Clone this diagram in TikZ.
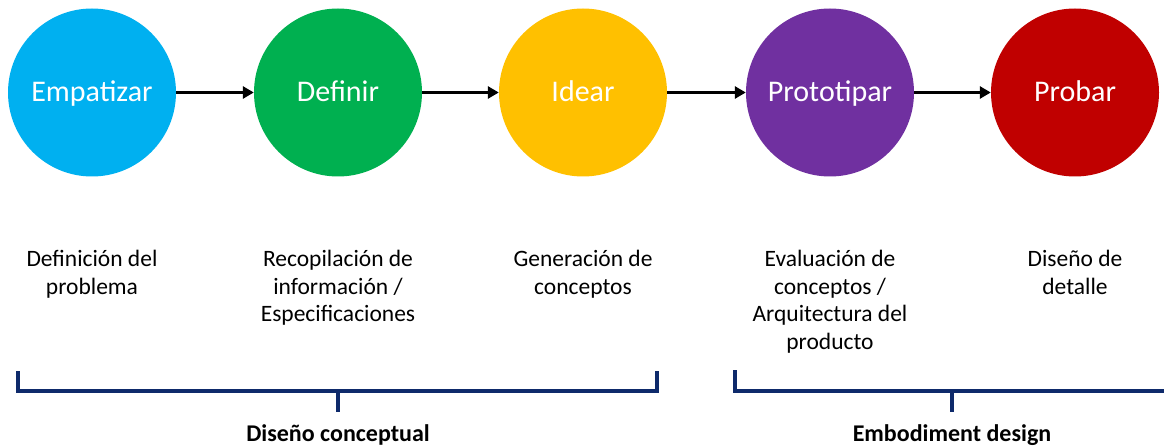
\documentclass[tikz,border=0pt]{standalone}
\usepackage{fontspec}
\setmainfont{Carlito}
\usetikzlibrary{arrows.meta}
\definecolor{cblue}{HTML}{00B0F0}
\definecolor{cgreen}{HTML}{00B050}
\definecolor{cyellow}{HTML}{FFC000}
\definecolor{cpurple}{HTML}{7030A0}
\definecolor{cred}{HTML}{C00000}
\definecolor{navy}{HTML}{0E2A6B}
\tikzset{
  stage/.style={circle, minimum size=168pt, inner sep=0pt, text=white,
    text height=22pt, text depth=4pt,
    font=\fontsize{30}{36}\selectfont},
  flow/.style={line width=3pt, -{Triangle[length=11pt,width=12pt]}},
  desc/.style={align=center, anchor=north, inner sep=0pt,
    font=\fontsize{23.5}{27.5}\selectfont},
  brace/.style={navy, line width=3.5pt},
  phase/.style={anchor=base, inner sep=0pt, font=\bfseries\fontsize{24}{28}\selectfont}
}
\begin{document}
\begin{tikzpicture}[x=1pt,y=-1pt]
\useasboundingbox (0,0) rectangle (1164,446);
\fill[white] (0,0) rectangle (1164,446);
\node[stage, fill=cblue]   (c1) at (92,92.5)  {Empatizar};
\node[stage, fill=cgreen]  (c2) at (338,92.5) {Definir};
\node[stage, fill=cyellow] (c3) at (583,92.5) {Idear};
\node[stage, fill=cpurple] (c4) at (830,92.5) {Prototipar};
\node[stage, fill=cred]    (c5) at (1075,92.5) {Probar};
\draw[flow] (c1) -- (c2);
\draw[flow] (c2) -- (c3);
\draw[flow] (c3) -- (c4);
\draw[flow] (c4) -- (c5);
\node[desc] (d1) at (92,250)  {Definición del\\problema};
\node[desc] (d2) at (338,250) {Recopilación de\\información /\\Especificaciones};
\node[desc] (d3) at (583,250) {Generación de\\conceptos};
\node[desc] (d4) at (830,250) {Evaluación de\\conceptos /\\Arquitectura del\\producto};
\node[desc] (d5) at (1075,250) {Diseño de\\detalle};
\coordinate (b1l) at (18,371);
\coordinate (b1r) at (657,371);
\coordinate (b1m) at (338,391);
\coordinate (b1s) at (338,412);
\draw[brace] (b1l) -- (18,391) -- (657,391) -- (b1r);
\draw[brace] (b1m) -- (b1s);
\node[phase] (p1) at (338,441) {Diseño conceptual};
\coordinate (b2l) at (735,370);
\coordinate (b2m) at (952,391);
\coordinate (b2s) at (952,412);
\draw[brace] (b2l) -- (735,391) -- (1164,391);
\draw[brace] (b2m) -- (b2s);
\node[phase] (p2) at (952,441) {Embodiment design};
\end{tikzpicture}
\end{document}
